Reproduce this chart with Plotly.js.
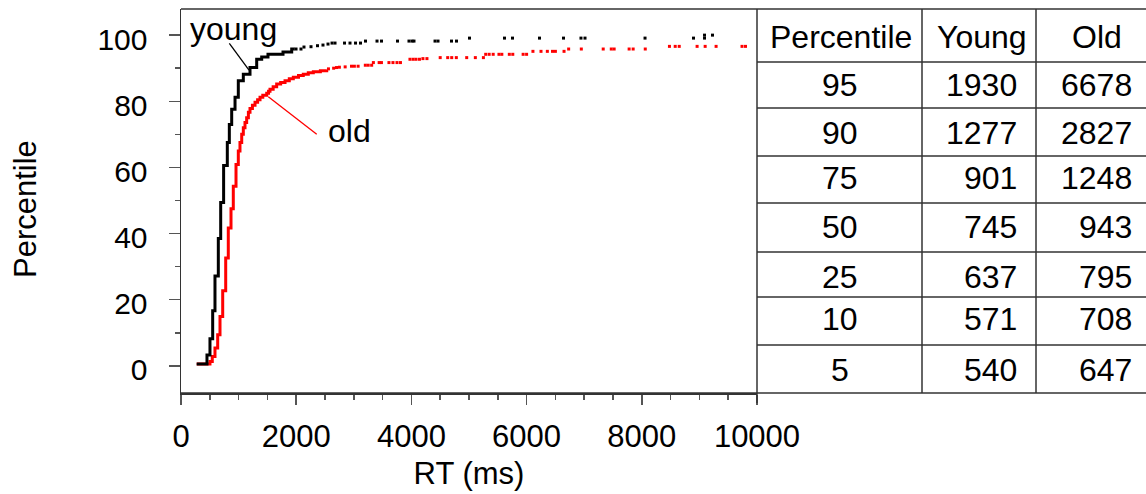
<!DOCTYPE html>
<html>
<head>
<meta charset="utf-8">
<script src="https://cdn.plot.ly/plotly-3.0.1.min.js"></script>
<style>
  html, body { margin: 0; padding: 0; background: #fff; }
  #chart { width: 1146px; height: 494px; }
</style>
</head>
<body>
<div id="chart"></div>
<script>
// ---------- Data ----------
// Dense part of each empirical CDF (RT in ms, cumulative percent)
const youngRT  = [272, 451, 503, 550, 590, 648, 689, 740, 804, 839, 880, 938, 995, 1082, 1198, 1314, 1401, 1510, 1771, 1922, 1975];
const youngPct = [0.6, 3.3, 8.2, 16.7, 27.2, 38.5, 49.4, 60.6, 67.5, 73.0, 77.6, 81.2, 86.2, 88.2, 90.2, 92.7, 93.4, 94.2, 94.9, 95.8, 95.8];
// Sparse tail of young CDF (isolated observations)
const youngTailRT  = [1997, 2083, 2135, 2257, 2370, 2465, 2552, 2622, 2674, 2839, 2934, 3030, 3116, 3203, 3403, 3481, 3759, 3958, 4010, 4045, 4410, 4462, 4696, 4783, 5009, 5616, 5755, 6224, 6641, 6944, 7014, 8056, 8898, 9089, 9089, 9227];
const youngTailPct = [95.8, 95.8, 96.4, 96.5, 96.8, 97.0, 97.3, 97.6, 97.6, 97.6, 97.6, 97.6, 97.6, 98.2, 98.2, 98.2, 98.2, 98.2, 98.2, 98.2, 98.2, 98.2, 98.2, 98.2, 99.1, 99.1, 99.1, 99.1, 99.1, 99.1, 99.1, 99.1, 99.1, 99.1, 100.0, 100.0];

const oldRT  = [273, 503, 543, 590, 637, 677, 724, 776, 821, 868, 908, 955, 995, 1024, 1054, 1082, 1111, 1140, 1170, 1198, 1240, 1285, 1330, 1372, 1420, 1488, 1520, 1545, 1600, 1661, 1730, 1806, 1880, 1950, 2040, 2123, 2210, 2297, 2420, 2530];
const oldPct = [0.6, 1.3, 2.8, 5.4, 9.4, 14.9, 22.7, 32.6, 41.7, 47.5, 54.3, 60.9, 65.0, 67.5, 70.0, 72.0, 73.6, 75.0, 76.7, 77.8, 78.8, 79.7, 80.5, 81.2, 81.8, 82.4, 83.0, 83.6, 84.4, 85.2, 85.7, 86.2, 86.8, 87.3, 87.8, 88.2, 88.6, 88.9, 89.2, 89.5];
const oldTailRT  = [2560, 2650, 2700, 2750, 2850, 2960, 3010, 3075, 3200, 3250, 3310, 3340, 3440, 3480, 3610, 3680, 3750, 3810, 3975, 4030, 4080, 4140, 4200, 4270, 4500, 4630, 4700, 4780, 4960, 5110, 5250, 5290, 5350, 5420, 5520, 5570, 5700, 5760, 5940, 6000, 6110, 6250, 6360, 6450, 6500, 6650, 6730, 6950, 7330, 7470, 7520, 7780, 7850, 8060, 8480, 8580, 8650, 8960, 9100, 9290, 9740, 9800];
const oldTailPct = [89.8, 90.0, 90.2, 90.3, 90.4, 90.6, 90.6, 90.6, 90.9, 90.9, 90.9, 91.7, 91.7, 91.7, 91.7, 91.7, 91.7, 91.7, 92.7, 92.7, 92.7, 92.7, 92.9, 92.9, 93.2, 93.2, 93.2, 93.2, 93.2, 93.2, 93.2, 94.2, 94.2, 94.2, 94.2, 94.2, 94.2, 94.2, 94.2, 94.2, 95.1, 95.1, 95.1, 95.1, 95.1, 95.1, 95.8, 95.8, 95.8, 95.8, 95.8, 95.8, 95.8, 95.8, 96.6, 96.6, 96.6, 96.6, 96.6, 96.6, 96.6, 96.6];

// Table of percentiles
const tableHeader = ["Percentile", "Young", "Old"];
const percentiles = [95, 90, 75, 50, 25, 10, 5];
const youngQ = [1930, 1277, 901, 745, 637, 571, 540];
const oldQ   = [6678, 2827, 1248, 943, 795, 708, 647];

const xTicks = [0, 2000, 4000, 6000, 8000, 10000];
const yTicks = [0, 20, 40, 60, 80, 100];

// ---------- Layout geometry (pixels) ----------
const W = 1146, H = 494;
const plotL = 181, plotR = 757, plotT = 9, plotB = 393;
const px = v => (v - plotL) / (W - plotL);           // pixel -> paper x
const py = v => 1 - (v - plotT) / (plotB - plotT);   // pixel -> paper y
const FONT = "Liberation Sans, Arial, Helvetica, sans-serif";
const FS = 30;      // y tick labels
const FX = 31;      // x tick labels and axis titles
const FT = 32;      // table and curve labels

const traces = [
  { x: oldRT, y: oldPct, type: "scatter", mode: "lines",
    line: { color: "#ff0000", width: 3, shape: "hv" }, hoverinfo: "skip" },
  { x: oldTailRT, y: oldTailPct, type: "scatter", mode: "markers",
    marker: { color: "#ff0000", symbol: "square", size: 3, line: { width: 0 } }, hoverinfo: "skip" },
  { x: youngRT, y: youngPct, type: "scatter", mode: "lines",
    line: { color: "#000000", width: 3, shape: "hv" }, hoverinfo: "skip" },
  { x: youngTailRT, y: youngTailPct, type: "scatter", mode: "markers",
    marker: { color: "#000000", symbol: "square", size: 3, line: { width: 0 } }, hoverinfo: "skip" }
];

const shapes = [];
const annotations = [];
const lineCol = "#333";

// frame top line across plot + table
shapes.push({ type: "line", xref: "paper", yref: "paper", x0: 0, x1: 1, y0: 1, y1: 1, line: { color: lineCol, width: 1.5 } });
// bottom line across plot + table
shapes.push({ type: "line", xref: "paper", yref: "paper", x0: 0, x1: 1, y0: 0, y1: 0, line: { color: lineCol, width: 1.5 } });
// table left border (plot right edge), extending as the 10000 tick
shapes.push({ type: "line", xref: "paper", yref: "paper", x0: px(plotR), x1: px(plotR), y0: py(403), y1: 1, line: { color: lineCol, width: 1.5 } });
// table column lines
[922, 1036].forEach(c => shapes.push({ type: "line", xref: "paper", yref: "paper", x0: px(c), x1: px(c), y0: 0, y1: 1, line: { color: lineCol, width: 1.5 } }));
// table row lines
const rowLines = [62, 108, 156, 203, 252, 297, 345];
rowLines.forEach(r => shapes.push({ type: "line", xref: "paper", yref: "paper", x0: px(plotR), x1: 1, y0: py(r), y1: py(r), line: { color: lineCol, width: 1.5 } }));

// table text
const headerY = 37;
const rowY = [85, 133, 178, 227, 277, 319, 370];
const colCenter = [841, 982, 1097];
const tf = { family: FONT, size: FT, color: "#000" };
tableHeader.forEach((t, i) => annotations.push({ xref: "paper", yref: "paper", x: px(colCenter[i]), y: py(headerY), text: t, showarrow: false, xanchor: "center", yanchor: "middle", font: tf }));
percentiles.forEach((p, i) => {
  annotations.push({ xref: "paper", yref: "paper", x: px(840), y: py(rowY[i]), text: String(p), showarrow: false, xanchor: "center", yanchor: "middle", font: tf });
  annotations.push({ xref: "paper", yref: "paper", x: px(1019), y: py(rowY[i]), text: String(youngQ[i]), showarrow: false, xanchor: "right", yanchor: "middle", font: tf });
  annotations.push({ xref: "paper", yref: "paper", x: px(1134), y: py(rowY[i]), text: String(oldQ[i]), showarrow: false, xanchor: "right", yanchor: "middle", font: tf });
});

// curve labels with leader lines
annotations.push({ xref: "x", yref: "y", x: 920, y: 102, text: "young", showarrow: false, xanchor: "center", yanchor: "middle", font: tf });
annotations.push({ xref: "x", yref: "y", x: 2917, y: 71, text: "old", showarrow: false, xanchor: "center", yanchor: "middle", font: tf });
shapes.push({ type: "line", xref: "x", yref: "y", x0: 839, y0: 97.5, x1: 1181, y1: 89.4, line: { color: "#000", width: 1.3 } });
shapes.push({ type: "line", xref: "x", yref: "y", x0: 1516, y0: 81.4, x1: 2356, y1: 70, line: { color: "#ff0000", width: 1.3 } });

// y-axis title placed as rotated text
annotations.push({ xref: "paper", yref: "paper", x: px(25), y: py(209), text: "Percentile", textangle: -90, showarrow: false, xanchor: "center", yanchor: "middle", font: { family: FONT, size: FX, color: "#000" } });

const layout = {
  width: W, height: H,
  margin: { l: plotL, r: 0, t: plotT, b: H - plotB, autoexpand: false },
  paper_bgcolor: "#fff", plot_bgcolor: "#fff",
  showlegend: false,
  font: { family: FONT, size: FS, color: "#000" },
  xaxis: {
    domain: [0, px(plotR)],
    range: [0, 10000],
    tickvals: xTicks, ticktext: xTicks.map(String),
    ticks: "outside", ticklen: 10, tickwidth: 1.5, tickcolor: "#555",
    minor: { dtick: 500, ticks: "outside", ticklen: 5, tickwidth: 1.5, tickcolor: "#555", showgrid: false },
    showline: true, linecolor: lineCol, linewidth: 1.5,
    showgrid: false, zeroline: false,
    ticklabelstandoff: 5,
    tickfont: { family: FONT, size: FX, color: "#000" },
    title: { text: "RT (ms)", font: { family: FONT, size: FX, color: "#000" }, standoff: 9 }
  },
  yaxis: {
    range: [-8.2, 107.9],
    tickvals: yTicks, ticktext: yTicks.map(String),
    ticks: "outside", ticklen: 11, tickwidth: 1.5, tickcolor: "#555",
    minor: { dtick: 10, ticks: "outside", ticklen: 5, tickwidth: 1.5, tickcolor: "#555", showgrid: false },
    showline: true, linecolor: lineCol, linewidth: 1.5,
    showgrid: false, zeroline: false,
    ticklabelstandoff: 15,
    ticklabelshift: 4,
    tickfont: { family: FONT, size: FS, color: "#000" }
  },
  shapes: shapes,
  annotations: annotations
};

Plotly.newPlot("chart", traces, layout, { displayModeBar: false, staticPlot: true });
</script>
</body>
</html>
